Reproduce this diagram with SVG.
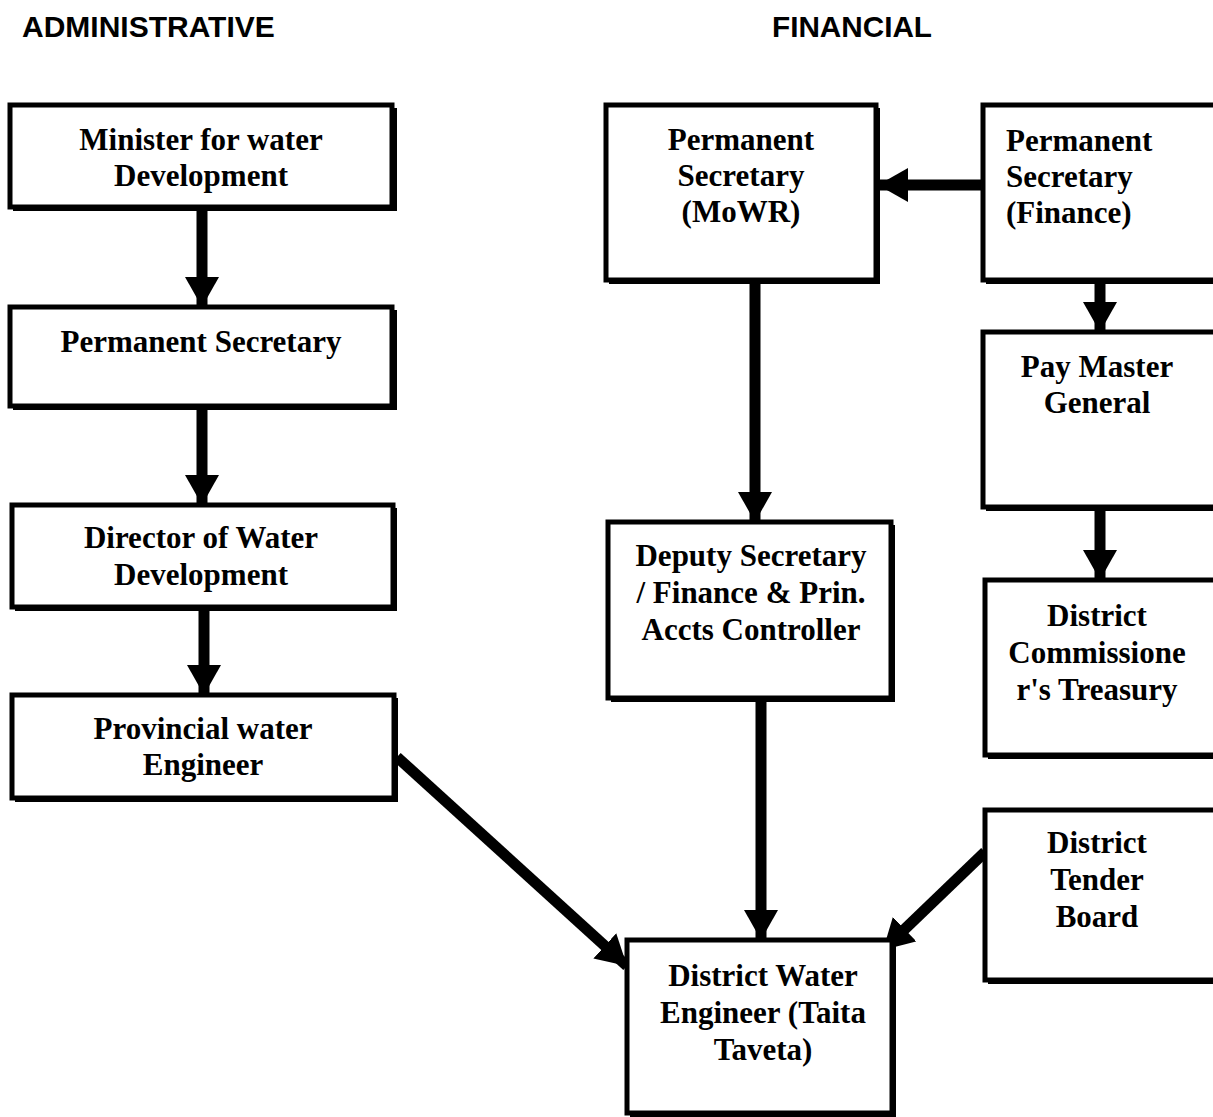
<svg xmlns="http://www.w3.org/2000/svg" width="1213" height="1117" viewBox="0 0 1213 1117">
<style>
.box{fill:#fff;stroke:#000;stroke-width:5}
.sh{fill:#000}
.t{font-family:"Liberation Serif","Times New Roman",serif;font-weight:bold;font-size:31px;fill:#000;text-anchor:middle}
.tl{font-family:"Liberation Serif","Times New Roman",serif;font-weight:bold;font-size:31px;fill:#000}
.h{font-family:"Liberation Sans",Arial,sans-serif;font-weight:bold;font-size:30px;fill:#000}
.c{stroke:#000;stroke-width:11;fill:none}
</style>
<defs>
<marker id="ah" markerUnits="userSpaceOnUse" markerWidth="36" markerHeight="36" refX="30" refY="17" orient="auto">
<path d="M0,0 L30,17 L0,34 Z" fill="#000"/>
</marker>
</defs>
<rect width="1213" height="1117" fill="#fff"/>
<text class="h" x="22" y="37">ADMINISTRATIVE</text>
<text class="h" x="772" y="37" textLength="160" lengthAdjust="spacingAndGlyphs">FINANCIAL</text>

<g id="connectors">
<line class="c" x1="202" y1="210" x2="202" y2="307" marker-end="url(#ah)"/>
<line class="c" x1="202" y1="408" x2="202" y2="505" marker-end="url(#ah)"/>
<line class="c" x1="204" y1="610" x2="204" y2="695" marker-end="url(#ah)"/>
<line class="c" x1="397" y1="757" x2="627" y2="966" marker-end="url(#ah)"/>
<line class="c" x1="983" y1="185" x2="878" y2="185" marker-end="url(#ah)"/>
<line class="c" x1="1100" y1="282" x2="1100" y2="332" marker-end="url(#ah)"/>
<line class="c" x1="1100" y1="510" x2="1100" y2="580" marker-end="url(#ah)"/>
<line class="c" x1="755" y1="283" x2="755" y2="522" marker-end="url(#ah)"/>
<line class="c" x1="761" y1="700" x2="761" y2="940" marker-end="url(#ah)"/>
<line class="c" x1="985" y1="852" x2="883" y2="950" marker-end="url(#ah)"/>
</g>

<g id="minister">
<rect class="sh" x="13" y="108" width="384" height="103"/>
<rect class="box" x="10" y="105" width="382" height="102"/>
<text class="t" x="201" y="150">Minister for water</text>
<text class="t" x="201" y="186">Development</text>
</g>
<g id="perm-sec">
<rect class="sh" x="13" y="310" width="384" height="100"/>
<rect class="box" x="10" y="307" width="382" height="99"/>
<text class="t" x="201" y="352">Permanent Secretary</text>
</g>
<g id="director">
<rect class="sh" x="15" y="508" width="382" height="103"/>
<rect class="box" x="12" y="505" width="381" height="102"/>
<text class="t" x="201" y="548">Director of Water</text>
<text class="t" x="201" y="585">Development</text>
</g>
<g id="provincial">
<rect class="sh" x="15" y="698" width="383" height="104"/>
<rect class="box" x="12" y="695" width="382" height="103"/>
<text class="t" x="203" y="739">Provincial water</text>
<text class="t" x="203" y="775">Engineer</text>
</g>
<g id="ps-mowr">
<rect class="sh" x="609" y="108" width="271" height="176"/>
<rect class="box" x="606" y="105" width="270" height="175"/>
<text class="t" x="741" y="150">Permanent</text>
<text class="t" x="741" y="186">Secretary</text>
<text class="t" x="741" y="222">(MoWR)</text>
</g>
<g id="ps-finance">
<rect class="sh" x="986" y="108" width="240" height="176"/>
<rect class="box" x="983" y="105" width="240" height="175"/>
<text class="tl" x="1006" y="151">Permanent</text>
<text class="tl" x="1006" y="187">Secretary</text>
<text class="tl" x="1006" y="223">(Finance)</text>
</g>
<g id="paymaster">
<rect class="sh" x="986" y="335" width="240" height="176"/>
<rect class="box" x="983" y="332" width="240" height="175"/>
<text class="t" x="1097" y="377">Pay Master</text>
<text class="t" x="1097" y="413">General</text>
</g>
<g id="dc-treasury">
<rect class="sh" x="988" y="583" width="240" height="176"/>
<rect class="box" x="985" y="580" width="240" height="175"/>
<text class="t" x="1097" y="626">District</text>
<text class="t" x="1097" y="663">Commissione</text>
<text class="t" x="1097" y="700">r's Treasury</text>
</g>
<g id="deputy">
<rect class="sh" x="611" y="525" width="284" height="177"/>
<rect class="box" x="608" y="522" width="283" height="176"/>
<text class="t" x="751" y="566">Deputy Secretary</text>
<text class="t" x="751" y="603">/ Finance &amp; Prin.</text>
<text class="t" x="751" y="640">Accts Controller</text>
</g>
<g id="tender">
<rect class="sh" x="988" y="813" width="240" height="171"/>
<rect class="box" x="985" y="810" width="240" height="170"/>
<text class="t" x="1097" y="853">District</text>
<text class="t" x="1097" y="890">Tender</text>
<text class="t" x="1097" y="927">Board</text>
</g>
<g id="dwe">
<rect class="sh" x="630" y="943" width="266" height="180"/>
<rect class="box" x="627" y="940" width="265" height="173"/>
<text class="t" x="763" y="986">District Water</text>
<text class="t" x="763" y="1023">Engineer (Taita</text>
<text class="t" x="763" y="1060">Taveta)</text>
</g>
</svg>
